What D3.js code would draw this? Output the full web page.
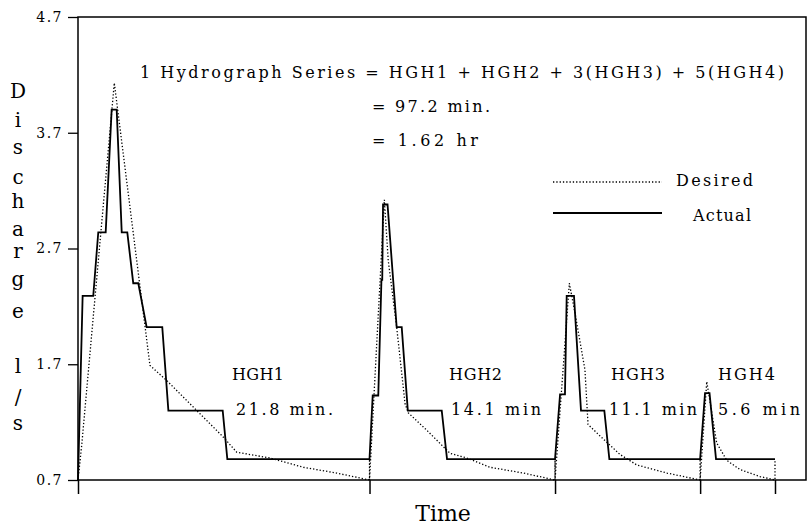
<!DOCTYPE html>
<html>
<head>
<meta charset="utf-8">
<script src="https://cdn.jsdelivr.net/npm/d3@7"></script>
<style>
body { margin: 0; background: #fff; }
svg { display: block; font-family: "DejaVu Serif", serif; }
</style>
</head>
<body>
<div id="chart"></div>
<script>
// Hydrograph series: time in minutes, discharge in l/s

// actual (stepped) discharge
const actualTime = [0, 0.35, 1.15, 1.53, 2.09, 2.54, 2.92, 3.30, 3.72, 4.17, 4.55, 5.18, 6.36, 6.82, 10.92, 11.27,
	22.0, 22.24, 22.66, 22.90, 22.96, 23.02, 23.36, 24.05, 24.43, 24.89, 27.45, 27.85,
	36.0, 36.38, 36.75, 36.88, 37.43, 37.96, 39.72, 40.10,
	46.95, 47.32, 47.66, 48.15, 52.6];
const actualQ = [0.70, 2.29, 2.29, 2.84, 2.84, 3.90, 3.90, 2.84, 2.84, 2.40, 2.40, 2.02, 2.02, 1.30, 1.30, 0.88,
	0.88, 1.43, 1.43, 2.43, 2.43, 3.08, 3.08, 2.02, 2.02, 1.30, 1.30, 0.88,
	0.88, 1.44, 1.44, 2.29, 2.29, 1.30, 1.30, 0.88,
	0.88, 1.45, 1.45, 0.88, 0.88];

// desired discharge
const desiredTime = [0, 0.28, 2.74, 5.43, 6.69, 8.70, 10.97, 11.98, 14.49, 17.00, 19.52, 22.0,
	22.0, 22.0,
	23.12, 23.41, 24.05, 24.68, 24.93, 26.32, 28.08, 29.34, 31.09, 33.61, 36.0,
	36.0, 36.0,
	37.08, 37.51, 38.26, 38.49, 39.40, 40.91, 42.17, 44.45, 46.95,
	46.95, 46.95,
	47.45, 48.20, 48.96, 49.96, 51.47, 52.6, 52.6];
const desiredQ = [0.70, 1.00, 4.13, 1.69, 1.56, 1.33, 1.07, 0.94, 0.89, 0.81, 0.76, 0.70,
	0.88, 0.70,
	3.12, 2.60, 2.02, 1.36, 1.28, 1.13, 0.93, 0.89, 0.81, 0.76, 0.70,
	0.88, 0.70,
	2.40, 2.14, 1.65, 1.18, 1.08, 0.92, 0.83, 0.76, 0.70,
	0.88, 0.70,
	1.55, 1.02, 0.87, 0.79, 0.73, 0.70, 0.88];

// hydrograph boundaries (x ticks)
const boundaries = [0, 22.0, 36.0, 46.95, 52.6];
const yTicks = [0.7, 1.7, 2.7, 3.7, 4.7];

const hydroNames = ['HGH1', 'HGH2', 'HGH3', 'HGH4'];
const hydroDurations = ['21.8 min.', '14.1 min', '11.1 min', '5.6 min'];

const seriesLine = '1 Hydrograph Series = HGH1 + HGH2 + 3(HGH3) + 5(HGH4)';
const totalLines = ['= 97.2 min.', '= 1.62 hr'];
const legendLabels = ['Desired', 'Actual'];
const yLabelChars = ['D', 'i', 's', 'c', 'h', 'a', 'r', 'g', 'e', 'l', '/', 's'];

//Layout
const W = 807, H = 530;
const svg = d3.select('#chart').append('svg')
	.attr('width', W)
	.attr('height', H);

const x = d3.scaleLinear().domain([0, 54.94]).range([78, 806]);
const y = d3.scaleLinear().domain([0.7, 4.7]).range([480, 17]);

//Frame
svg.append('rect')
	.attr('x', x.range()[0])
	.attr('y', y.range()[1])
	.attr('width', x.range()[1] - x.range()[0])
	.attr('height', y.range()[0] - y.range()[1])
	.style('fill', 'none')
	.style('stroke', '#000')
	.style('stroke-width', '1.5px');

//Axes
const yAxis = svg.append('g')
	.attr('transform', `translate(${x.range()[0]},0)`)
	.call(d3.axisLeft(y).tickValues(yTicks).tickSize(10).tickPadding(5).tickFormat(d3.format('.1f')));
yAxis.select('.domain').remove();
yAxis.selectAll('line').style('stroke-width', '1.3px');
yAxis.selectAll('text')
	.style('font-family', '"DejaVu Serif", serif')
	.style('font-size', '14px')
	.style('letter-spacing', '1.5px')
	.attr('fill', '#000');

const xAxis = svg.append('g')
	.attr('transform', `translate(0,${y.range()[0]})`)
	.call(d3.axisBottom(x).tickValues(boundaries).tickSize(14).tickFormat(() => ''));
xAxis.select('.domain').remove();
xAxis.selectAll('line').style('stroke-width', '1.5px');

//Lines
const desiredPts = d3.zip(desiredTime, desiredQ);
const actualPts = d3.zip(actualTime, actualQ);
const lineGen = d3.line().x(d => x(d[0])).y(d => y(d[1]));

svg.append('path')
	.datum(desiredPts)
	.attr('d', lineGen)
	.style('fill', 'none')
	.style('stroke', '#000')
	.style('stroke-width', '1.3px')
	.style('stroke-dasharray', '1.3,2');

svg.append('path')
	.datum(actualPts)
	.attr('d', lineGen)
	.style('fill', 'none')
	.style('stroke', '#000')
	.style('stroke-width', '1.8px')
	.style('stroke-linejoin', 'miter');

//Text helper
function addText(str, tx, ty, size, len, anchor){
	const t = svg.append('text')
		.attr('x', tx)
		.attr('y', ty)
		.style('font-size', size + 'px')
		.attr('text-anchor', anchor || 'start')
		.attr('fill', '#000')
		.text(str);
	if(len){
		t.attr('textLength', len).attr('lengthAdjust', 'spacing');
	}
	return t;
}

//Annotation
addText(seriesLine, 140, 78, 16, 644);
addText(totalLines[0], 372, 112, 16, 118);
addText(totalLines[1], 372, 146, 16, 106);

//Legend
const legendY = [182, 213];
svg.append('line')
	.attr('x1', 553).attr('x2', 662)
	.attr('y1', legendY[0]).attr('y2', legendY[0])
	.style('stroke', '#000')
	.style('stroke-width', '1.3px')
	.style('stroke-dasharray', '1.3,2');
svg.append('line')
	.attr('x1', 553).attr('x2', 662)
	.attr('y1', legendY[1]).attr('y2', legendY[1])
	.style('stroke', '#000')
	.style('stroke-width', '1.8px');
addText(legendLabels[0], 676, 186, 16, 77);
addText(legendLabels[1], 693, 221, 16, 58);

//Hydrograph labels
const nameX = [232, 449, 611, 718];
const nameW = [52, 53, 54, 57];
const durX = [236, 451, 609, 718];
const durW = [97, 90, 88, 82];
hydroNames.forEach((n, i) => addText(n, nameX[i], 380, 16, nameW[i]));
hydroDurations.forEach((n, i) => addText(n, durX[i], 415, 16, durW[i]));

//Axis titles
addText('Time', 443, 521, 22, null, 'middle');

const yLabelBase = [98, 127, 154, 184, 208, 236, 258, 286, 318, 373, 404, 430];
yLabelChars.forEach((c, i) => {
	addText(c, 18, yLabelBase[i], 20, null, 'middle');
});
</script>
</body>
</html>
